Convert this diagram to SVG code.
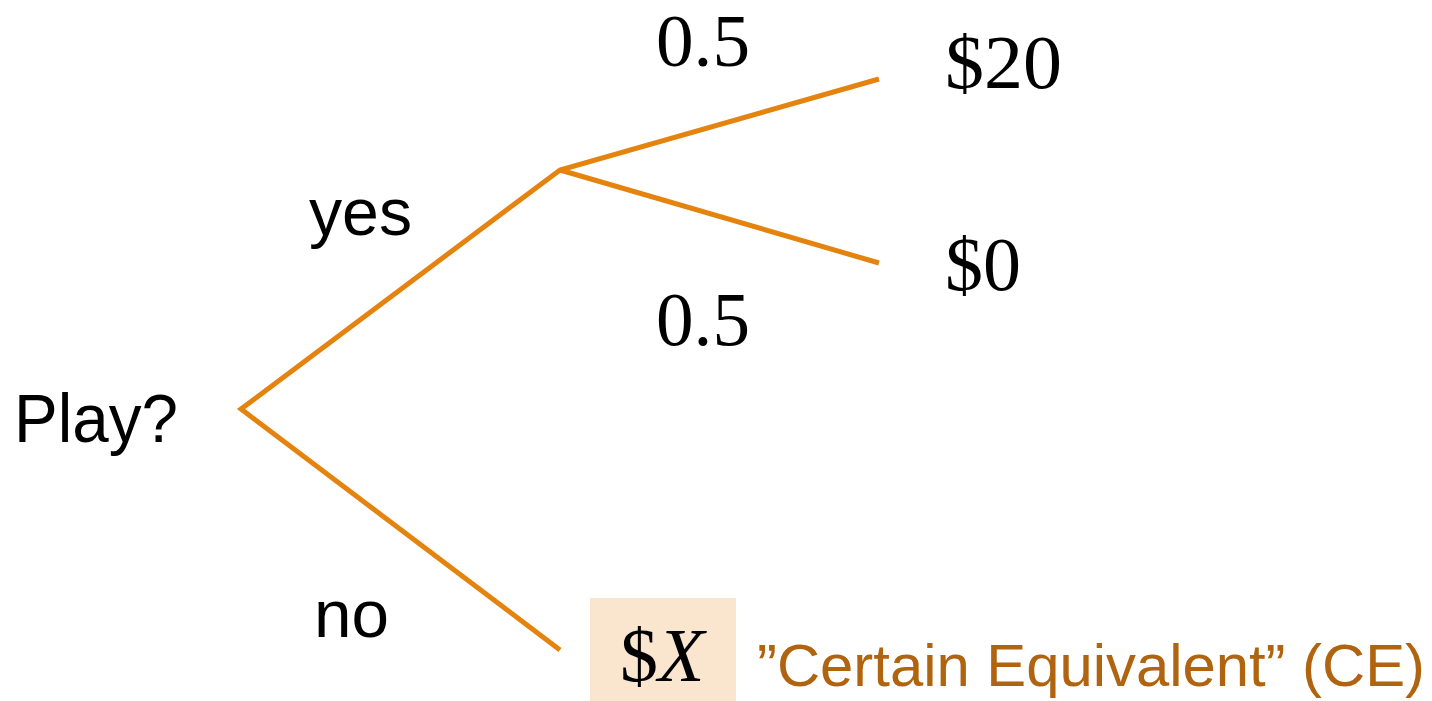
<svg xmlns="http://www.w3.org/2000/svg" width="1432" height="701" viewBox="0 0 1432 701">
<style>
.br{stroke:#E5830F;stroke-width:5;fill:none;stroke-linecap:butt;stroke-linejoin:miter}
.sf{font-family:"Liberation Serif","DejaVu Serif",serif;fill:#000}
.ss{font-family:"Liberation Sans",Arial,sans-serif;fill:#000}
</style>
<rect width="1432" height="701" fill="#fff"/>
<g id="connectors">
<polyline class="br" points="560,650 241,409 560,170 879,79"/>
<line class="br" x1="560" y1="170" x2="879" y2="263"/>
</g>
<g id="play"><text class="ss" x="14" y="442" font-size="68" textLength="164" lengthAdjust="spacingAndGlyphs">Play?</text></g>
<g id="yes-label"><text class="ss" x="309" y="235" font-size="66" textLength="103" lengthAdjust="spacingAndGlyphs">yes</text></g>
<g id="no-label"><text class="ss" x="314" y="637" font-size="66" textLength="75" lengthAdjust="spacingAndGlyphs">no</text></g>
<g id="p-top"><text class="sf" x="656" y="66" font-size="74" textLength="94" lengthAdjust="spacingAndGlyphs">0.5</text></g>
<g id="p-bot"><text class="sf" x="656" y="345" font-size="76" textLength="94" lengthAdjust="spacingAndGlyphs">0.5</text></g>
<g id="win"><text class="sf" x="945" y="88" font-size="76" textLength="117" lengthAdjust="spacingAndGlyphs">$20</text></g>
<g id="lose"><text class="sf" x="945" y="290" font-size="76" textLength="76" lengthAdjust="spacingAndGlyphs">$0</text></g>
<g id="ce">
<rect x="590" y="598" width="146" height="103" fill="#FAE5CF"/>
<text class="sf" x="620" y="681" font-size="76">$<tspan font-style="italic">X</tspan></text>
<text x="757" y="686" font-family="'Liberation Sans',Arial,sans-serif" font-size="60" fill="#B0640F" textLength="668" lengthAdjust="spacingAndGlyphs">”Certain Equivalent” (CE)</text>
</g>
</svg>
